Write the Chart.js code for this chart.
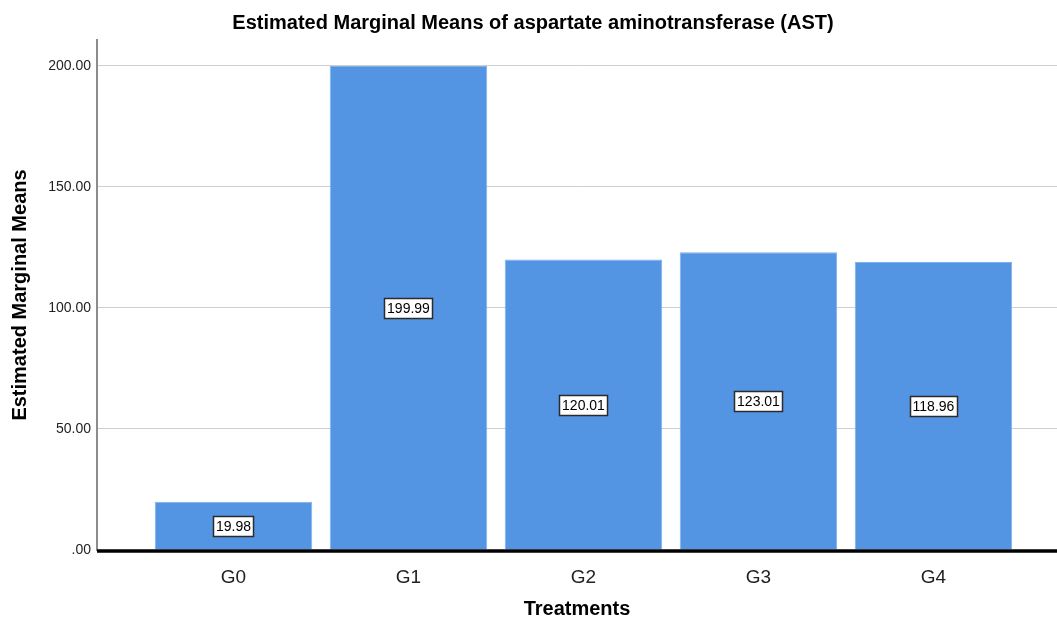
<!DOCTYPE html>
<html>
<head>
<meta charset="utf-8">
<script src="https://cdn.jsdelivr.net/npm/chart.js@4/dist/chart.umd.min.js"></script>
<style>
  html, body { margin: 0; padding: 0; background: #fff; }
  #wrap { width: 1057px; height: 621px; }
</style>
</head>
<body>
<div id="wrap"><canvas id="c"></canvas></div>
<script>
// data
const groups = ['G0', 'G1', 'G2', 'G3', 'G4']
const means = [19.98, 199.99, 120.01, 123.01, 118.96]
const yTicks = [0, 50, 100, 150, 200]

const FONT = '"Liberation Sans", Arial, sans-serif'

// value boxes in the middle of each bar, plus heavy zero line and chart title
const decor = {
  id: 'decor',
  afterDatasetsDraw(chart) {
    const ctx = chart.ctx
    const ys = chart.scales.y
    const area = chart.chartArea

    // zero baseline
    ctx.save()
    ctx.strokeStyle = '#000'
    ctx.lineWidth = 3.5
    ctx.beginPath()
    ctx.moveTo(area.left, ys.getPixelForValue(0) + 1)
    ctx.lineTo(area.right, ys.getPixelForValue(0) + 1)
    ctx.stroke()

    // labels
    ctx.font = '14px ' + FONT
    ctx.textAlign = 'center'
    ctx.textBaseline = 'middle'
    chart.getDatasetMeta(0).data.forEach((bar, i) => {
      const txt = means[i].toFixed(2)
      const cx = bar.x
      const cy = ys.getPixelForValue(means[i] / 2)
      const w = Math.round(ctx.measureText(txt).width + 5)
      const h = 20
      const x0 = Math.round(cx - w / 2) + 0.5
      const y0 = Math.round(cy - h / 2) + 0.5
      ctx.fillStyle = '#fff'
      ctx.fillRect(x0, y0, w, h)
      ctx.strokeStyle = '#2b2b2b'
      ctx.lineWidth = 1.5
      ctx.strokeRect(x0, y0, w, h)
      ctx.fillStyle = '#000'
      ctx.fillText(txt, cx, cy + 1)
    })

    // title
    ctx.font = 'bold 20px ' + FONT
    ctx.fillText('Estimated Marginal Means of aspartate aminotransferase (AST)', 533, 23)
    ctx.restore()
  }
}

new Chart(document.getElementById('c'), {
  type: 'bar',
  data: {
    datasets: [{
      data: groups.map((g, i) => ({ x: i, y: means[i] })),
      backgroundColor: '#5495e3',
      borderColor: '#7eb0ec',
      borderWidth: 1,
      barPercentage: 0.9,
      categoryPercentage: 1
    }]
  },
  options: {
    responsive: true,
    maintainAspectRatio: false,
    animation: false,
    layout: { padding: { top: 40, right: 0, left: 0, bottom: 0 } },
    plugins: {
      legend: { display: false },
      tooltip: { enabled: false }
    },
    scales: {
      x: {
        type: 'linear',
        offset: false,
        min: -0.78,
        max: 4.706,
        afterBuildTicks: s => { s.ticks = groups.map((g, i) => ({ value: i })) },
        afterFit: s => { s.height = 71 },
        grid: { display: false, drawTicks: false, offset: false },
        border: { display: false },
        ticks: {
          callback: v => groups[v],
          color: '#222',
          font: { family: FONT, size: 19 },
          padding: 16,
          maxRotation: 0
        },
        title: {
          display: true,
          text: 'Treatments',
          color: '#000',
          font: { family: FONT, size: 20, weight: 'bold' },
          padding: { top: 8, bottom: 0 }
        }
      },
      y: {
        min: 0,
        max: 210.7,
        afterBuildTicks: s => { s.ticks = yTicks.map(v => ({ value: v })) },
        afterFit: s => { s.width = 97 },
        grid: { color: '#cfcfcf', lineWidth: 1, drawTicks: false },
        border: { display: true, color: '#8c8c8c', width: 2 },
        ticks: {
          callback: v => v === 0 ? '.00' : v.toFixed(2),
          color: '#222',
          font: { family: FONT, size: 14 },
          padding: 6
        },
        title: {
          display: true,
          text: 'Estimated Marginal Means',
          color: '#000',
          font: { family: FONT, size: 20, weight: 'bold' },
          padding: { top: 8, bottom: 10 }
        }
      }
    }
  },
  plugins: [decor]
})
</script>
</body>
</html>
